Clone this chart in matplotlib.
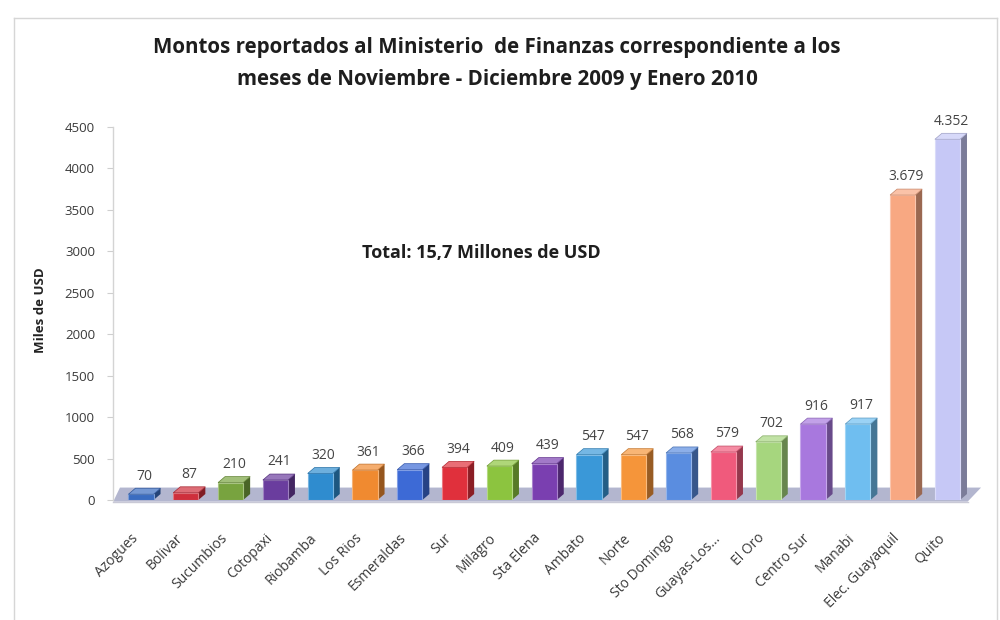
import matplotlib
matplotlib.use("Agg")
import matplotlib.pyplot as plt
from matplotlib.patches import Polygon
from matplotlib.colors import to_rgb
from matplotlib.lines import Line2D

# ---- data -------------------------------------------------------------
categories = ["Azogues", "Bolivar", "Sucumbios", "Cotopaxi", "Riobamba",
              "Los Rios", "Esmeraldas", "Sur", "Milagro", "Sta Elena",
              "Ambato", "Norte", "Sto Domingo", "Guayas-Los...", "El Oro",
              "Centro Sur", "Manabi", "Elec. Guayaquil", "Quito"]
values = [70, 87, 210, 241, 320, 361, 366, 394, 409, 439,
          547, 547, 568, 579, 702, 916, 917, 3679, 4352]
bar_colors = ["#3a6cc0", "#cf2f3c", "#78a33f", "#6a3d9e", "#2f8ccf",
              "#f08a30", "#3d6ad6", "#e0303c", "#8cc43f", "#7a3fb0",
              "#3a98d8", "#f5953a", "#5a8de0", "#f05a7c", "#a6d67e",
              "#a878de", "#6fbef0", "#f8a882", "#c6c8f6"]
y_ticks = [0, 500, 1000, 1500, 2000, 2500, 3000, 3500, 4000, 4500]

title_lines = ["Montos reportados al Ministerio  de Finanzas correspondiente a los",
               "meses de Noviembre - Diciembre 2009 y Enero 2010"]
total_note = "Total: 15,7 Millones de USD"
y_label = "Miles de USD"

plt.rcParams['font.family'] = ['Open Sans', 'DejaVu Sans']


def shade(color, f):
    r, g, b = to_rgb(color)
    return (r * f, g * f, b * f)


def tint(color, f):
    r, g, b = to_rgb(color)
    return (r + (1 - r) * f, g + (1 - g) * f, b + (1 - b) * f)


def fmt(v):
    return f"{v:,}".replace(",", ".")


W, H = 1000, 620
fig = plt.figure(figsize=(10, 6.2), dpi=100)
fig.patch.set_facecolor("white")

# thin outer frame of the chart area
frame_kw = dict(color="#d6d6d6", lw=1.0, transform=fig.transFigure)
fig.add_artist(Line2D([14 / W, 997 / W], [1 - 18 / H, 1 - 18 / H], **frame_kw))
fig.add_artist(Line2D([14 / W, 14 / W], [0, 1 - 18 / H], **frame_kw))
fig.add_artist(Line2D([997 / W, 997 / W], [0, 1 - 18 / H], **frame_kw))

ax_left, ax_right = 113, 975
ax_bottom, ax_top = 500, 127
ax = fig.add_axes([ax_left / W, 1 - ax_bottom / H,
                   (ax_right - ax_left) / W, (ax_bottom - ax_top) / H])
ax.set_xlim(-0.625, 18.615)
ax.set_ylim(0, 4500)
ax.set_facecolor("none")
for name, sp in ax.spines.items():
    sp.set_visible(name == "left")
ax.spines["left"].set_color("#d4d4d4")
ax.spines["left"].set_linewidth(1.0)

ax.set_yticks(y_ticks)
ax.set_yticklabels([str(t) for t in y_ticks])
ax.tick_params(axis="y", length=4, color="#cfcfcf", labelsize=9.5,
               labelcolor="#3a3a3a", pad=9)
ax.set_xticks([])

# 3D geometry (depth of each box, in data units)
width = 0.56
dx = 0.156
dy = 72.0

# floor slab
n = len(categories)
floor = Polygon([(-0.62, -20), (n - 0.55, -20), (n - 0.25, 150), (-0.47, 150)],
                closed=True, facecolor="#b3b6cf", edgecolor="none", zorder=1,
                clip_on=False)
ax.add_patch(floor)
ax.plot([-0.625, n - 0.55], [-28, -28], color="#c9c9d6", lw=1.0, zorder=1,
        clip_on=False)

xs = list(range(n))
ax.bar(xs, values, width=width, color=bar_colors,
       edgecolor=[tint(c, 0.35) for c in bar_colors], linewidth=0.8, zorder=3)
for x, v, c in zip(xs, values, bar_colors):
    xl, xr = x - width / 2, x + width / 2
    side = Polygon([(xr, 0), (xr + dx, dy), (xr + dx, v + dy), (xr, v)],
                   closed=True, facecolor=shade(c, 0.62), edgecolor="none",
                   zorder=2, clip_on=False)
    top = Polygon([(xl, v), (xr, v), (xr + dx, v + dy), (xl + dx, v + dy)],
                  closed=True, facecolor=tint(c, 0.3), edgecolor=shade(c, 0.8),
                  linewidth=0.5, zorder=4, clip_on=False)
    ax.add_patch(side)
    ax.add_patch(top)
    ax.annotate(fmt(v), xy=(x + dx / 2, v), xytext=(0, 13),
                textcoords="offset points", ha="center", va="center",
                fontsize=10, color="#444444", zorder=5, annotation_clip=False)

# category labels, rotated
for x, lab in zip(xs, categories):
    ax.text(x - 0.12, -36 / (ax_bottom - ax_top), lab,
            transform=ax.get_xaxis_transform(), rotation=45,
            rotation_mode="anchor", ha="right", va="center",
            fontsize=10, color="#3a3a3a")

# axis title
fig.text(40 / W, 1 - 310 / H, y_label, rotation=90, ha="center", va="center",
         fontsize=9.5, fontweight="bold", color="#222222")

# chart title
fig.text(497 / W, 1 - 47 / H, title_lines[0], ha="center", va="center",
         fontsize=14.8, fontweight="bold", color="#1e1e1e")
fig.text(497 / W, 1 - 80 / H, title_lines[1], ha="center", va="center",
         fontsize=14.8, fontweight="bold", color="#1e1e1e")

# total annotation
fig.text(481 / W, 1 - 253 / H, total_note, ha="center", va="center",
         fontsize=13, fontweight="bold", color="#1e1e1e")

fig.savefig("out.png", dpi=100, facecolor="white")
